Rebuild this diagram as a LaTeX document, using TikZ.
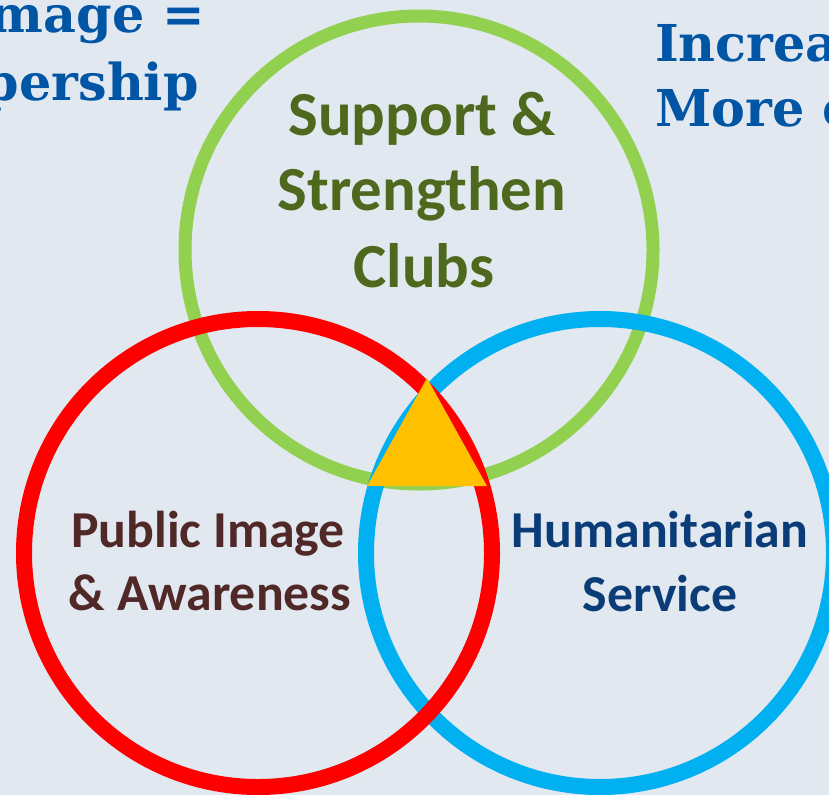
\documentclass[tikz,border=0pt]{standalone}
\usepackage{fontspec}
\setmainfont{Carlito}
\newfontfamily\headserif{DejaVu Serif}

\definecolor{pagebg}{RGB}{226,232,240}
\definecolor{ringgreen}{RGB}{146,208,80}
\definecolor{ringred}{RGB}{255,0,0}
\definecolor{ringblue}{RGB}{0,176,240}
\definecolor{centregold}{RGB}{255,192,0}
\definecolor{clubtext}{RGB}{78,104,30}
\definecolor{imagetext}{RGB}{80,40,40}
\definecolor{servicetext}{RGB}{10,60,120}
\definecolor{headblue}{RGB}{0,85,165}

\begin{document}
\begin{tikzpicture}[
  x=1bp, y=-1bp,
  ring/.style={circle, draw, inner sep=0pt, outer sep=0pt, minimum size=#1},
  clublabel/.style={anchor=base, inner sep=0pt, text=clubtext,
    font=\fontsize{63}{75}\selectfont\bfseries},
  imagelabel/.style={anchor=base, inner sep=0pt, text=imagetext,
    font=\fontsize{52}{62}\selectfont\bfseries},
  servicelabel/.style={anchor=base, inner sep=0pt, text=servicetext,
    font=\fontsize{52}{62}\selectfont\bfseries},
  headline/.style={inner sep=0pt, text=headblue,
    font=\fontsize{51}{64}\headserif\bfseries},
]
\useasboundingbox (0,0) rectangle (829,795);
\clip (0,0) rectangle (829,795);
\fill[pagebg] (0,0) rectangle (829,795);

% the three rings: green under blue under red
\node[ring=468bp, draw=ringgreen, line width=13bp] (clubs) at (419,250) {};
\node[ring=468bp, draw=ringblue, line width=16bp] (service) at (600,553) {};
\node[ring=468bp, draw=ringred, line width=16bp] (image) at (258,553) {};

% centre triangle where all three meet
\coordinate (apex) at (427,378);
\coordinate (baseL) at (367,486);
\coordinate (baseR) at (487,486);
\fill[centregold] (apex) -- (baseL) -- (baseR) -- cycle;

% ring labels
\node[clublabel] (clubs1) at (422,135) {Support \&};
\node[clublabel] (clubs2) at (422,210) {Strengthen};
\node[clublabel] (clubs3) at (424,287) {Clubs};

\node[imagelabel] (image1) at (208,547) {Public Image};
\node[imagelabel] (image2) at (210,610) {\& Awareness};

\node[servicelabel] (service1) at (660,547) {Humanitarian};
\node[servicelabel] (service2) at (660,611) {Service};

% headlines running off the edges
\node[headline, anchor=base east] (headL1) at (205,33) {mage =};
\node[headline, anchor=base east] (headL2) at (199,100) {pership};
\node[headline, anchor=base west] (headR1) at (655,62) {Increa};
\node[headline, anchor=base west] (headR2) at (655,126) {More c};
\end{tikzpicture}
\end{document}
